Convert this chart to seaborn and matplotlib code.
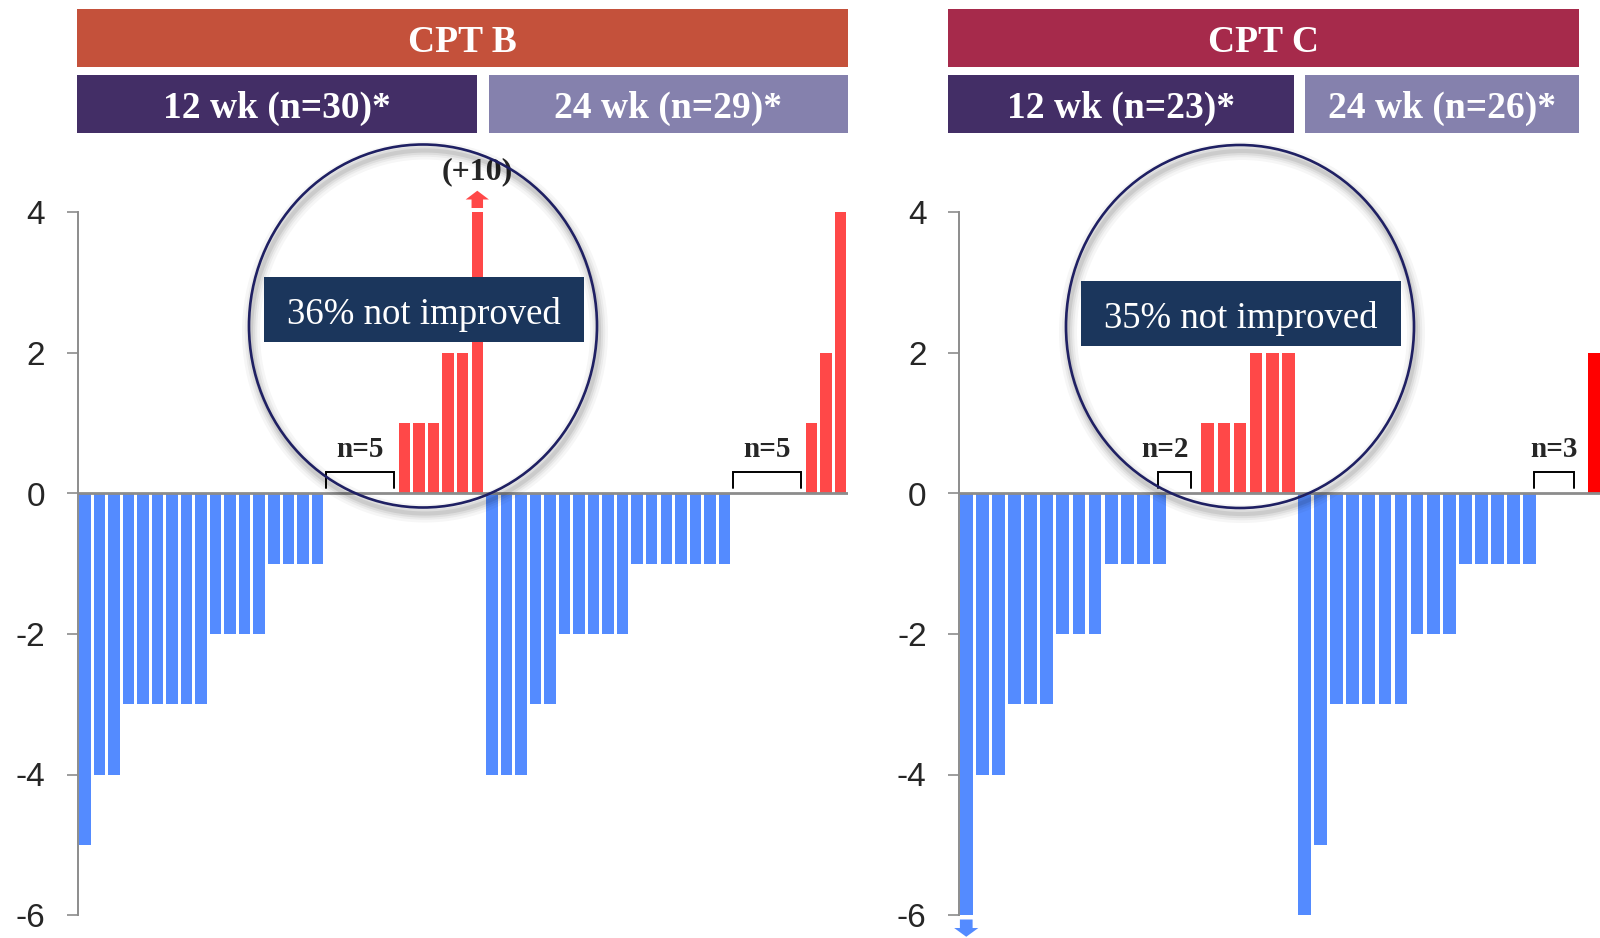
import numpy as np
import pandas as pd
import matplotlib
matplotlib.use("Agg")
import matplotlib.pyplot as plt
from matplotlib.patches import Rectangle, Ellipse, Polygon
import seaborn as sns

# ---------------- data ----------------
cptb_12wk = [-5, -4, -4, -3, -3, -3, -3, -3, -3, -2, -2, -2, -2, -1, -1, -1, -1,
             0, 0, 0, 0, 0, 1, 1, 1, 2, 2, 10]
cptb_24wk = [-4, -4, -4, -3, -3, -2, -2, -2, -2, -2, -1, -1, -1, -1, -1, -1, -1,
             0, 0, 0, 0, 0, 1, 2, 4]
cptc_12wk = [-7, -4, -4, -3, -3, -3, -2, -2, -2, -1, -1, -1, -1,
             0, 0, 1, 1, 1, 2, 2, 2]          # first bar is off-scale (< -6)
cptc_24wk = [-6, -5, -3, -3, -3, -3, -3, -2, -2, -2, -1, -1, -1, -1, -1,
             0, 0, 0, 2]

panel_titles = ["CPT B", "CPT C"]
group_titles_b = ["12 wk (n=30)*", "24 wk (n=29)*"]
group_titles_c = ["12 wk (n=23)*", "24 wk (n=26)*"]
not_improved = ["36% not improved", "35% not improved"]
yticks = [-6, -4, -2, 0, 2, 4]
ytick_labels = ["-6", "-4", "-2", "0", "2", "4"]

# ---------------- style ----------------
sns.set_style("white")
plt.rcParams["font.family"] = ["Liberation Sans", "DejaVu Sans"]
SERIF = ["Liberation Serif", "DejaVu Serif"]

BLUE = "#548BFF"
RED = "#FF4848"
RED_ALT = "#FF0000"
GREY = "#8C8C8C"
NAVY_BOX = "#1B365C"
CIRCLE = "#1F2063"
BANNER_B = "#C4513B"
BANNER_C = "#A62A4B"
WK12 = "#432E66"
WK24 = "#8581AD"

W, H = 1600, 938
fig = plt.figure(figsize=(16, 9.38), dpi=100)
fig.patch.set_facecolor("white")


def fx(x):
    return x / W


def fy(y):
    return 1 - y / H


YMIN, YMAX = -6, 4
ax_b = fig.add_axes([fx(77.5), fy(915), (848 - 77.5) / W, (915 - 212.5) / H])
ax_c = fig.add_axes([fx(959), fy(915), (1600 - 959) / W, (915 - 212.5) / H])


def draw_panel(ax, groups, reds, xlim, bracket_off, text_off):
    frames, start = [], 0
    for g, vals in enumerate(groups):
        n = len(vals)
        d = pd.DataFrame({"pos": np.arange(start, start + n), "val": vals, "group": g})
        d["kind"] = np.where(d["val"] < 0, "down",
                             np.where(d["val"] > 0, "up%d" % g, "zero"))
        frames.append(d)
        start += n
    df = pd.concat(frames, ignore_index=True)
    df["shown"] = df["val"].clip(YMIN, YMAX)
    pal = {"down": BLUE, "zero": BLUE}
    for g, r in enumerate(reds):
        pal["up%d" % g] = r
    sns.barplot(data=df, x="pos", y="shown", hue="kind", palette=pal,
                native_scale=True, dodge=False, width=0.79, linewidth=0,
                saturation=1, errorbar=None, legend=False, ax=ax)
    ax.axhline(0, color=GREY, lw=2.0, zorder=3)
    ax.set_xlim(*xlim)
    ax.set_ylim(YMIN, YMAX)
    ax.set_xticks([])
    ax.set_xlabel("")
    ax.set_ylabel("")
    ax.set_yticks(yticks)
    ax.set_yticklabels(ytick_labels, fontsize=24, family=["Liberation Sans"])
    ax.tick_params(axis="y", length=7.8, width=1.2, color=GREY, pad=15.5, left=True)
    for s in ["top", "right", "bottom"]:
        ax.spines[s].set_visible(False)
    ax.spines["left"].set_color(GREY)
    ax.spines["left"].set_linewidth(1.4)
    ax.patch.set_alpha(0)

    # off-scale arrows
    hw_bar = 0.395
    for _, r in df.iterrows():
        if r["val"] > YMAX or r["val"] < YMIN:
            sgn = 1 if r["val"] > YMAX else -1
            base = YMAX if sgn > 0 else YMIN
            y0 = base + sgn * 0.064
            y1 = base + sgn * 0.185
            y2 = base + sgn * 0.31
            x = r["pos"]
            head = 0.8 if sgn > 0 else 0.75
            col = pal[r["kind"]]
            poly = Polygon([(x - hw_bar, y0), (x + hw_bar, y0), (x + hw_bar, y1),
                            (x + head, y1), (x, y2), (x - head, y1),
                            (x - hw_bar, y1)], closed=True, fc=col, ec="none",
                           clip_on=False, zorder=4)
            ax.add_patch(poly)
            if sgn > 0:
                ax.text(x, base + 0.58, "(+%d)" % r["val"], ha="center", va="center",
                        fontsize=23, fontweight="bold", family=SERIF,
                        clip_on=False, zorder=8)

    # brackets over the "no change" patients
    for g in range(len(groups)):
        z = df[(df["group"] == g) & (df["val"] == 0)]["pos"]
        if len(z) == 0:
            continue
        xa = z.min() + bracket_off[g][0]
        xb = z.max() + bracket_off[g][1]
        ax.plot([xa, xa, xb, xb], [0.085, 0.305, 0.305, 0.085], color="black",
                lw=1.4, solid_joinstyle="miter", zorder=4)
        ax.text((xa + xb) / 2 + text_off[g], 0.52, "n=%d" % len(z), ha="center",
                va="baseline", fontsize=21, fontweight="bold", family=SERIF, zorder=4)
    return df


draw_panel(ax_b, [cptb_12wk, cptb_24wk], [RED, RED], (-0.5, 52.5),
           [(-0.4, 0.3), (-0.4, 0.3)], [0, 0])
draw_panel(ax_c, [cptc_12wk, cptc_24wk], [RED, RED_ALT], (-0.45, 39.36),
           [(-1.1, -0.05), (-0.75, -0.25)], [-0.6, 0])


# ---------------- header banners ----------------
def banner(x0, x1, y0, y1, color, text):
    fig.add_artist(Rectangle((fx(x0), fy(y1)), (x1 - x0) / W, (y1 - y0) / H,
                             transform=fig.transFigure, fc=color, ec="none", zorder=1))
    fig.text(fx((x0 + x1) / 2), fy((y0 + y1) / 2 + 4), text, ha="center", va="center",
             color="white", fontsize=27, fontweight="bold", family=SERIF, zorder=2)


banner(77, 848, 9, 67, BANNER_B, panel_titles[0])
banner(77, 477, 75.5, 133.5, WK12, group_titles_b[0])
banner(489, 848, 75.5, 133.5, WK24, group_titles_b[1])
banner(948, 1579, 9, 67, BANNER_C, panel_titles[1])
banner(948, 1294, 75.5, 133.5, WK12, group_titles_c[0])
banner(1305, 1579, 75.5, 133.5, WK24, group_titles_c[1])


# ---------------- magnifier circles + callouts ----------------
def magnifier(cx, cy, box, label):
    w, h = 348 / W, 363 / H
    for lw, a in [(13, 0.035), (9, 0.045), (6, 0.06), (3, 0.08)]:
        fig.add_artist(Ellipse((fx(cx + 2), fy(cy + 6)), w, h, transform=fig.transFigure,
                               fill=False, ec="black", lw=lw, alpha=a, zorder=4))
    fig.add_artist(Ellipse((fx(cx), fy(cy)), w, h, transform=fig.transFigure,
                           fill=False, ec=CIRCLE, lw=1.9, zorder=5))
    x0, x1, y0, y1 = box
    fig.add_artist(Rectangle((fx(x0), fy(y1)), (x1 - x0) / W, (y1 - y0) / H,
                             transform=fig.transFigure, fc=NAVY_BOX, ec="none", zorder=6))
    fig.text(fx((x0 + x1) / 2), fy((y0 + y1) / 2 + 4.5), label, ha="center", va="center",
             color="white", fontsize=26.5, family=SERIF, zorder=7)


magnifier(423, 326, (264, 584, 277, 342), not_improved[0])
magnifier(1240, 326.5, (1081, 1401, 281, 346), not_improved[1])

fig.savefig("out.png", dpi=100, facecolor="white")
